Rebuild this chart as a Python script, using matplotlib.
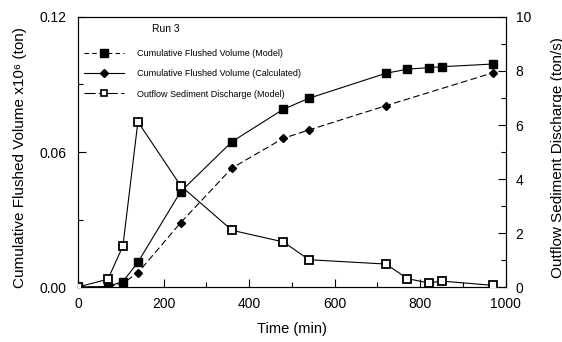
import matplotlib
matplotlib.use("Agg")
import matplotlib.pyplot as plt
from matplotlib.lines import Line2D
import matplotlib.ticker as ticker

plt.rcParams['font.family'] = ['Liberation Sans', 'DejaVu Sans']

# time (min)
time_model = [0, 70, 105, 140, 240, 360, 480, 540, 720, 770, 820, 850, 970]
# cumulative flushed volume, model (x10^6 ton)
vol_model = [0.0, 0.0002, 0.0024, 0.011, 0.0424, 0.0646, 0.079, 0.0839, 0.095, 0.0968, 0.0975, 0.0979, 0.0991]

time_calc = [0, 70, 105, 140, 240, 360, 480, 540, 720, 970]
# cumulative flushed volume, calculated
vol_calc = [0.0, 0.0, 0.0017, 0.0063, 0.0286, 0.0529, 0.0661, 0.0698, 0.0806, 0.0952]

# outflow sediment discharge, model (ton/s)
discharge = [0.0, 0.29, 1.52, 6.12, 3.75, 2.1, 1.67, 1.01, 0.85, 0.31, 0.15, 0.22, 0.06]

fig = plt.figure(figsize=(5.62, 3.42), dpi=100)
ax = fig.add_axes([0.1388, 0.1608, 0.7612, 0.7895])
ax2 = ax.twinx()

ax.plot(time_model, vol_model, color='k', lw=0.8, ls='-', marker='s', ms=6,
        mfc='k', mec='k', zorder=3)
ax.plot(time_calc, vol_calc, color='k', lw=0.8, ls=(0, (6, 3)), marker='D', ms=4.5,
        mfc='k', mec='k', zorder=3)
ax2.plot(time_model, discharge, color='k', lw=0.8, ls='-', marker='s', ms=5.5,
         mfc='white', mec='k', mew=1.3, zorder=3)

ax.set_xlim(0, 1000)
ax.set_ylim(0, 0.12)
ax2.set_ylim(0, 10)

ax.xaxis.set_major_locator(ticker.MultipleLocator(200))
ax.xaxis.set_minor_locator(ticker.MultipleLocator(100))
ax.yaxis.set_major_locator(ticker.MultipleLocator(0.06))
ax.yaxis.set_minor_locator(ticker.MultipleLocator(0.03))
ax.yaxis.set_major_formatter(ticker.FormatStrFormatter('%.2f'))
ax2.yaxis.set_major_locator(ticker.MultipleLocator(2))
ax2.yaxis.set_minor_locator(ticker.MultipleLocator(1))

for a in (ax, ax2):
    a.tick_params(which='major', direction='in', length=6, width=0.8, labelsize=10)
    a.tick_params(which='minor', direction='in', length=3.5, width=0.8)
    for s in a.spines.values():
        s.set_linewidth(0.8)
ax.tick_params(axis='x', which='both', top=False, pad=7)
ax.tick_params(axis='y', pad=8)
ax2.tick_params(axis='y', pad=7)

ax.set_xlabel('Time (min)', fontsize=10.5, labelpad=8)
ax.set_ylabel('Cumulative Flushed Volume x10\u2076 (ton)', fontsize=11)
ax2.set_ylabel('Outflow Sediment Discharge (ton/s)', fontsize=11)
ax.yaxis.set_label_coords(-0.12, 0.48)
ax2.yaxis.set_label_coords(1.105, 0.48)

ax.text(0.172, 0.955, 'Run 3', transform=ax.transAxes, fontsize=7.5, va='center')

handles = [
    Line2D([], [], color='k', lw=0.8, ls=(0, (4, 3)), marker='s', ms=5.5, mfc='k'),
    Line2D([], [], color='k', lw=0.8, ls='-', marker='D', ms=4.5, mfc='k'),
    Line2D([], [], color='k', lw=0.8, ls=(0, (10, 3, 4, 3)), marker='s', ms=5, mfc='white', mew=1.2),
]
labels = ['Cumulative Flushed Volume (Model)',
          'Cumulative Flushed Volume (Calculated)',
          'Outflow Sediment Discharge (Model)']
ax.legend(handles, labels, loc='upper left', bbox_to_anchor=(0.0, 0.905), frameon=False,
          fontsize=6.5, handlelength=4.4, handletextpad=1.4, labelspacing=1.25,
          borderaxespad=0.3)

fig.savefig('out.png', dpi=100)
